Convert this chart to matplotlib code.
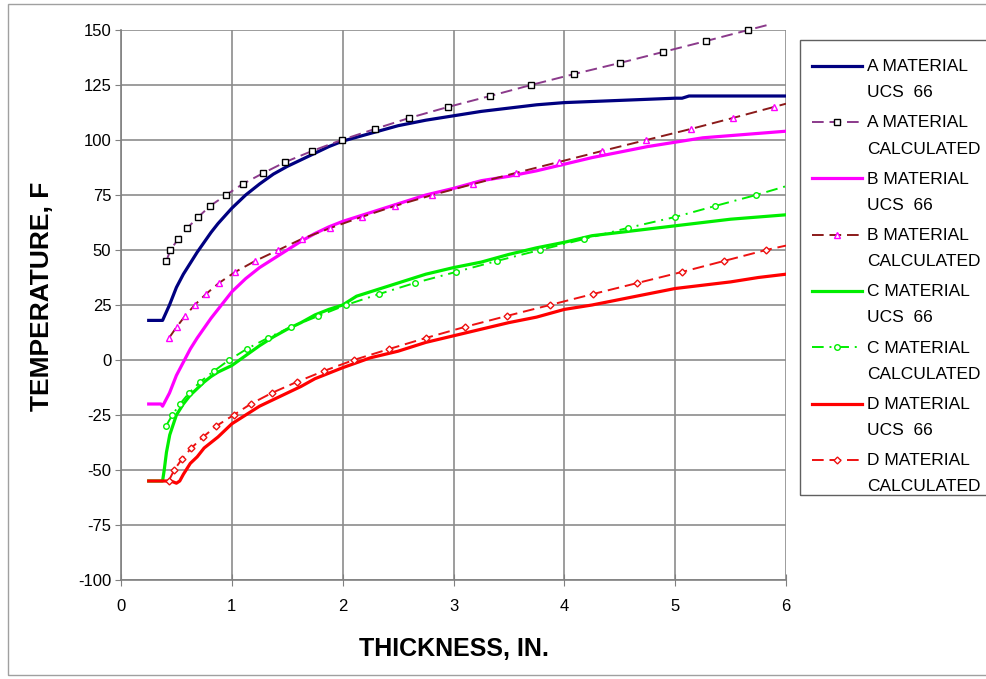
import numpy as np
import matplotlib.pyplot as plt
from matplotlib.lines import Line2D
from matplotlib.legend_handler import HandlerLine2D
from matplotlib.patches import Rectangle

plt.rcParams['font.family'] = ['Liberation Sans', 'DejaVu Sans']
plt.rcParams['axes.unicode_minus'] = False

# UCS 66 curves: thickness (in.) vs temperature (F)
a_ucs_x = [0.25, 0.375, 0.4375, 0.5, 0.5625, 0.625, 0.6875, 0.75, 0.8125, 0.875, 0.9375, 1.0,
           1.0625, 1.125, 1.1875, 1.25, 1.375, 1.5, 1.625, 1.75, 1.875, 2.0, 2.25, 2.5, 2.75,
           3.0, 3.25, 3.5, 3.75, 4.0, 4.25, 4.5, 4.75, 5.0, 5.0625, 5.125, 6.0]
a_ucs_y = [18, 18, 25, 33, 39, 44, 49, 53.5, 58, 62, 65.5, 69,
           72, 75, 77.5, 80, 84.5, 88, 91, 94, 97, 99.5, 103, 106.5, 109,
           111, 113, 114.5, 116, 117, 117.5, 118, 118.5, 119, 119, 120, 120]

b_ucs_x = [0.25, 0.36, 0.375, 0.4375, 0.5, 0.5625, 0.625, 0.6875, 0.75, 0.8125, 0.875, 0.9375,
           1.0, 1.125, 1.25, 1.375, 1.5, 1.625, 1.75, 1.875, 2.0, 2.25, 2.5, 2.75, 3.0, 3.25,
           3.5, 3.75, 4.0, 4.25, 4.5, 4.75, 5.0, 5.25, 5.5, 5.75, 6.0]
b_ucs_y = [-20, -20, -21, -15, -7, -1, 5, 10, 14.5, 19, 23, 27,
           31, 37, 42, 46, 50, 54, 57.5, 60.5, 63, 67, 71, 75, 78, 81.5,
           83.5, 86, 89, 92, 94.5, 97, 99, 101, 102, 103, 104]

c_ucs_x = [0.25, 0.375, 0.39, 0.41, 0.44, 0.5, 0.5625, 0.625, 0.6875, 0.75, 0.8125, 0.875,
           0.9375, 1.0, 1.125, 1.25, 1.375, 1.5, 1.625, 1.75, 1.875, 2.0, 2.125, 2.25, 2.5,
           2.75, 3.0, 3.25, 3.5, 3.75, 4.0, 4.25, 4.5, 4.75, 5.0, 5.25, 5.5, 5.75, 6.0]
c_ucs_y = [-55, -55, -50, -42, -34, -25, -20, -16, -13, -10, -7.5, -5.5,
           -4, -2.5, 2, 6.5, 10.5, 14, 17, 20.5, 23, 25, 29, 31, 35,
           39, 42, 44.5, 48, 51, 53.5, 56.5, 58, 59.5, 61, 62.5, 64, 65, 66]

d_ucs_x = [0.25, 0.45, 0.5, 0.53, 0.5625, 0.625, 0.6875, 0.75, 0.875, 1.0, 1.125, 1.25, 1.375,
           1.5, 1.625, 1.75, 1.875, 2.0, 2.25, 2.5, 2.75, 3.0, 3.25, 3.5, 3.75, 4.0, 4.25,
           4.5, 4.75, 5.0, 5.25, 5.5, 5.75, 6.0]
d_ucs_y = [-55, -55, -56, -55, -52, -47, -44, -40, -35, -29, -25, -21, -18,
           -15, -12, -8.5, -6, -3.5, 1, 4, 8, 11, 14, 17, 19.5, 23, 25,
           27.5, 30, 32.5, 34, 35.5, 37.5, 39]

# calculated curves (markers every 5 F, last point is the line end)
a_calc_x = [0.41, 0.445, 0.517, 0.598, 0.698, 0.803, 0.948, 1.098, 1.285, 1.483, 1.724, 1.99,
            2.29, 2.60, 2.95, 3.33, 3.70, 4.09, 4.50, 4.89, 5.28, 5.66, 5.85]
a_calc_y = [45, 50, 55, 60, 65, 70, 75, 80, 85, 90, 95, 100,
            105, 110, 115, 120, 125, 130, 135, 140, 145, 150, 152.5]

b_calc_x = [0.433, 0.502, 0.578, 0.665, 0.767, 0.884, 1.03, 1.21, 1.42, 1.63, 1.89, 2.17,
            2.47, 2.81, 3.18, 3.56, 3.95, 4.34, 4.74, 5.14, 5.52, 5.89, 6.0]
b_calc_y = [10, 15, 20, 25, 30, 35, 40, 45, 50, 55, 60, 65,
            70, 75, 80, 85, 90, 95, 100, 105, 110, 115, 116.5]

c_calc_x = [0.406, 0.463, 0.532, 0.614, 0.713, 0.839, 0.975, 1.134, 1.324, 1.534, 1.78, 2.03,
            2.33, 2.65, 3.02, 3.39, 3.78, 4.18, 4.57, 5.0, 5.36, 5.73, 6.0]
c_calc_y = [-30, -25, -20, -15, -10, -5, 0, 5, 10, 15, 20, 25,
            30, 35, 40, 45, 50, 55, 60, 65, 70, 75, 79]

d_calc_x = [0.43, 0.48, 0.55, 0.635, 0.74, 0.86, 1.017, 1.17, 1.36, 1.585, 1.83, 2.1,
            2.42, 2.75, 3.10, 3.48, 3.87, 4.26, 4.66, 5.06, 5.44, 5.82, 6.0]
d_calc_y = [-55, -50, -45, -40, -35, -30, -25, -20, -15, -10, -5, 0,
            5, 10, 15, 20, 25, 30, 35, 40, 45, 50, 52]

labels = ['A MATERIAL\nUCS  66', 'A MATERIAL\nCALCULATED',
          'B MATERIAL\nUCS  66', 'B MATERIAL\nCALCULATED',
          'C MATERIAL\nUCS  66', 'C MATERIAL\nCALCULATED',
          'D MATERIAL\nUCS  66', 'D MATERIAL\nCALCULATED']


class UpperHandler(HandlerLine2D):
    # put the legend sample next to the first text line
    def create_artists(self, legend, orig_handle, xdescent, ydescent, width, height, fontsize, trans):
        arts = super().create_artists(legend, orig_handle, xdescent, ydescent, width, height, fontsize, trans)
        for a in arts:
            a.set_ydata(np.asarray(a.get_ydata()) + 0.8 * fontsize)
        return arts


fig = plt.figure(figsize=(9.86, 6.79), dpi=100)
ax = fig.add_axes([121 / 986, 1 - 580 / 679, 665 / 986, 550 / 679])

lw = 2.3
h = []
h += ax.plot(a_ucs_x, a_ucs_y, color='#000080', lw=lw)
n = len(a_calc_x) - 1
h += ax.plot(a_calc_x, a_calc_y, color='#8B3A8B', lw=1.4, dashes=(6, 3), marker='s', ms=4.8,
             mfc='white', mec='black', mew=1, markevery=slice(0, n), clip_on=False)
h += ax.plot(b_ucs_x, b_ucs_y, color='#FF00FF', lw=lw)
h += ax.plot(b_calc_x, b_calc_y, color='#8B1A1A', lw=1.4, dashes=(6, 3), marker='^', ms=5,
             mfc='white', mec='#FF00FF', mew=1, markevery=slice(0, n))
h += ax.plot(c_ucs_x, c_ucs_y, color='#00EE00', lw=lw)
h += ax.plot(c_calc_x, c_calc_y, color='#00EE00', lw=1.4, dashes=(6, 3, 1, 3), marker='o', ms=4,
             mfc='white', mec='#00EE00', mew=1, markevery=slice(0, n))
h += ax.plot(d_ucs_x, d_ucs_y, color='#FF0000', lw=lw)
h += ax.plot(d_calc_x, d_calc_y, color='#EE1111', lw=1.4, dashes=(6, 3), marker='D', ms=3.5,
             mfc='white', mec='#EE1111', mew=1, markevery=slice(0, n))

ax.set_xlim(0, 6)
ax.set_ylim(-100, 150)
ax.set_xticks(range(0, 7))
ax.set_yticks(range(-100, 151, 25))
ax.grid(True, color='#8c8c8c', lw=1.2)
ax.set_axisbelow(True)
for s in ['top', 'right']:
    ax.spines[s].set_visible(False)
for s in ['left', 'bottom']:
    ax.spines[s].set_color('#808080')
    ax.spines[s].set_linewidth(1.2)
ax.tick_params(axis='y', direction='out', length=4, color='#808080', labelsize=12, pad=3)
ax.tick_params(axis='x', direction='inout', length=8, color='#808080', labelsize=12, pad=10)
ax.set_xlabel('THICKNESS, IN.', fontsize=18, fontweight='bold', labelpad=16)
ax.set_ylabel('TEMPERATURE, F', fontsize=19, fontweight='bold')
ax.yaxis.set_label_coords(-0.1, 0.515)

leg = fig.legend(h, labels, loc='upper left', bbox_to_anchor=(800 / 986, 1 - 47 / 679),
                 borderaxespad=0, fontsize=12.5, handlelength=2.85, handletextpad=0.3,
                 borderpad=0.7, labelspacing=0.88, frameon=False,
                 handler_map={Line2D: UpperHandler()})
for t in leg.get_texts():
    t.set_linespacing(1.92)

# legend frame and chart border
fig.patches.append(Rectangle((800 / 986, 1 - 495 / 679), 0.3, 455 / 679, transform=fig.transFigure,
                             fill=False, edgecolor='#606060', lw=1))
fig.patches.append(Rectangle((8 / 986, 4 / 679), 1.0, 671 / 679, transform=fig.transFigure,
                             fill=False, edgecolor='#a0a0a0', lw=1))

fig.savefig('out.png', dpi=100)
